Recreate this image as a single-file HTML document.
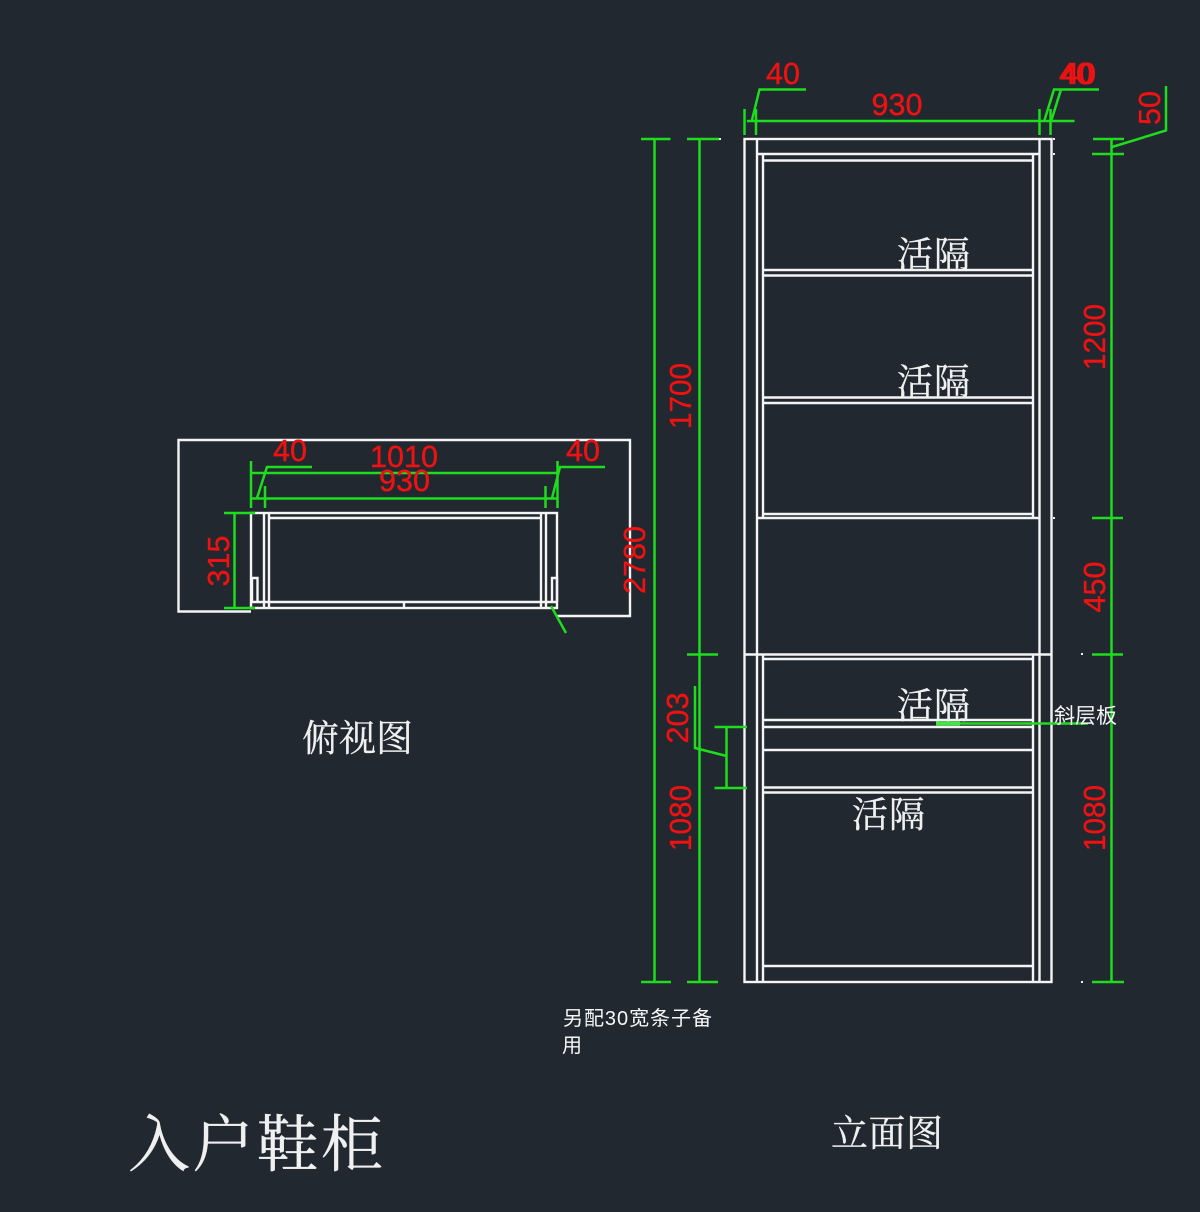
<!DOCTYPE html>
<html lang="zh">
<head>
<meta charset="utf-8">
<title>入户鞋柜</title>
<style>
html,body{margin:0;padding:0;background:#212830;}
svg{display:block;}
.w{stroke:#f4f4f4;stroke-width:2.4;fill:none;}
.g{stroke:#1fdc1f;stroke-width:2.5;fill:none;}
.r{fill:#ee1212;stroke:#ee1212;stroke-width:.4;font-family:"Liberation Sans",sans-serif;font-size:30.500px;text-anchor:middle;}
.c{fill:#f0f0f0;stroke:#f0f0f0;stroke-width:.3;font-family:"Liberation Serif","Noto Serif CJK SC",serif;}
.s{fill:#f6f6f6;font-family:"Liberation Sans","Noto Sans CJK SC",sans-serif;}
</style>
</head>
<body>
<svg xmlns="http://www.w3.org/2000/svg" width="1200" height="1212" viewBox="0 0 1200 1212">
<rect width="1200" height="1212" fill="#212830"/>
<g style="filter:blur(0.35px)">
<!-- Plan view: white -->
<path class="w" d="M251 611.500H178.500V440H630V616H557"/>
<rect class="w" x="251" y="513" width="306" height="95"/>
<path class="w" d="M264 513V608M269 513V608M541 513V608M546 513V608M269 518H541M251 602H557M404 602V608"/>
<path class="w" d="M252 602V578H257.500V602M552 602V578H557V602"/>
<!-- Plan view: green -->
<path class="g" d="M251 461V508M557.500 461V508M251 473H557.500M251 498.500H557.500M265 486V508M545.500 486V508"/>
<path class="g" d="M257 498L267 467H312M552 498L560 467H605"/>
<path class="g" d="M234.500 513V608M224 513H255M224 608H255M551 606L566 633"/>

<!-- Elevation: white -->
<rect class="w" x="744.500" y="139" width="307" height="843"/>
<path class="w" d="M757 139V982M1039.500 139V982M763 154V518M1033 154V518M763 654.500V982M1033 654.500V982"/>
<path class="w" d="M757 154H1039.500M763 160.500H1033"/>
<path class="w" d="M763 270H1033M763 275.500H1033M763 397.500H1033M763 403H1033M763 514H1033M757 518H1039.500"/>
<path class="w" d="M744.500 654.500H1051.500M763 659H1033M763 720H1033M763 727H1033M763 750H1033M763 787.500H1033M763 792.500H1033M763 966H1033"/>
<!-- Elevation: dots -->
<g fill="#eeeeee">
<rect x="719" y="138" width="2" height="2"/><rect x="1053" y="138" width="2" height="2"/><rect x="1053" y="153" width="2" height="2"/><rect x="1053" y="517" width="2" height="2"/><rect x="1081" y="653" width="2" height="2"/><rect x="1081" y="981" width="2" height="2"/>
</g>
<!-- Elevation: green -->
<path class="g" d="M654.500 139V982M641 139H670.500M641 982H671"/>
<path class="g" d="M699.500 139V982M687 139H719M687 654.500H718M687 982H718"/>
<path class="g" d="M1111.500 139V982M1093 139H1124M1092 154H1124M1092 518H1123M1092 654.500H1123M1092 982H1124"/>
<path class="g" d="M747 121H1074.500M744.500 109V135M756 109V135M1039.500 109V135M1050.500 109V135"/>
<path class="g" d="M752 120L759.500 89.500H806M1044.500 120L1054 89.500H1086M1051.500 120L1061 89.500H1099"/>
<path class="g" d="M1112 147L1166 130.500V86"/>
<path class="g" d="M726.500 727V788M714.500 727H747M714.500 788H747M695 686V748L726.500 756"/>
<path class="g" d="M936 723.500H1088"/>
<path stroke="#3fe83f" stroke-width="4" fill="none" d="M936 723.500H960"/>

<!-- Red labels -->
<text class="r" x="290" y="461">40</text>
<text class="r" x="404" y="467" textLength="68" lengthAdjust="spacingAndGlyphs">1010</text>
<text class="r" x="404.500" y="491">930</text>
<text class="r" x="583" y="461">40</text>
<text class="r" transform="translate(229,561) rotate(-90)">315</text>
<text class="r" transform="translate(645,560) rotate(-90)" textLength="68" lengthAdjust="spacingAndGlyphs">2780</text>
<text class="r" x="783" y="84">40</text>
<text class="r" x="897" y="115">930</text>
<text class="r" x="1076" y="84">40</text>
<text class="r" x="1079" y="84">40</text>
<text class="r" transform="translate(1160,108) rotate(-90)">50</text>
<text class="r" transform="translate(691,396) rotate(-90)" textLength="66" lengthAdjust="spacingAndGlyphs">1700</text>
<text class="r" transform="translate(1105,337) rotate(-90)" textLength="66" lengthAdjust="spacingAndGlyphs">1200</text>
<text class="r" transform="translate(1105,587) rotate(-90)">450</text>
<text class="r" transform="translate(688,718) rotate(-90)">203</text>
<text class="r" transform="translate(691,818) rotate(-90)" textLength="66" lengthAdjust="spacingAndGlyphs">1080</text>
<text class="r" transform="translate(1105,818) rotate(-90)" textLength="66" lengthAdjust="spacingAndGlyphs">1080</text>

<!-- Chinese labels -->
<text class="c" x="897" y="267" font-size="36" textLength="73">活隔</text>
<text class="c" x="897" y="394" font-size="36" textLength="73">活隔</text>
<text class="c" x="897" y="718" font-size="36" textLength="73">活隔</text>
<text class="c" x="852" y="827" font-size="36" textLength="73">活隔</text>
<text class="c" x="302" y="751" font-size="37" textLength="111">俯视图</text>
<text class="c" x="831" y="1146" font-size="37" textLength="112">立面图</text>
<text class="c" x="128" y="1166" font-size="62" textLength="255">入户鞋柜</text>
<text class="s" x="1054" y="723" font-size="21" textLength="63">斜层板</text>
<text class="s" x="563" y="1025" font-size="20" textLength="149">另配30宽条子备</text>
<text class="s" x="562" y="1052" font-size="20">用</text>
</g>
</svg>
</body>
</html>
